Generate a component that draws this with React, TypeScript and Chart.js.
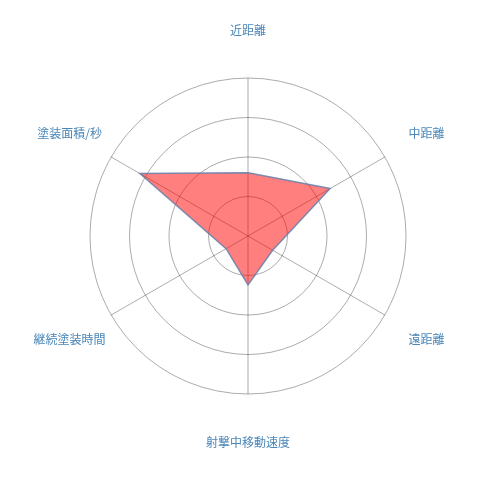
import { useEffect, useRef } from "react";
import { Chart, registerables, type Plugin } from "chart.js";

Chart.register(...registerables);

const labels = ["近距離", "中距離", "遠距離", "射撃中移動速度", "継続塗装時間", "塗装面積/秒"];
const values = [40, 60, 18, 31, 16, 79];
const scaleMax = 100;
const scaleStep = 25;

const LABEL_COLOR = "#4a86b8";
const GRID_COLOR = "rgba(0,0,0,0.33)";

// centred point labels, placed by the scale at a fixed distance past the outer ring
const centredLabels: Plugin<"radar"> = {
  id: "centredLabels",
  afterDraw(chart) {
    const scale: any = chart.scales.r;
    const ctx = chart.ctx;
    ctx.save();
    ctx.font = '12px "Noto Sans CJK JP", sans-serif';
    ctx.fillStyle = LABEL_COLOR;
    ctx.textAlign = "center";
    ctx.textBaseline = "middle";
    (chart.data.labels as string[]).forEach((text, i) => {
      const p = scale.getPointPosition(i, scale.drawingArea + 48);
      ctx.fillText(text, p.x, p.y);
    });
    ctx.restore();
  },
};

export default function App() {
  const canvasRef = useRef<HTMLCanvasElement>(null);
  const chartRef = useRef<Chart | null>(null);

  useEffect(() => {
    if (!canvasRef.current) return;
    chartRef.current?.destroy();
    chartRef.current = new Chart(canvasRef.current, {
      type: "radar",
      data: {
        labels,
        datasets: [
          {
            data: values,
            backgroundColor: "rgba(255,0,0,0.5)",
            borderColor: "rgba(110,130,170,0.9)",
            borderWidth: 1.5,
            pointRadius: 0,
            pointHoverRadius: 0,
          },
        ],
      },
      options: {
        animation: false,
        responsive: true,
        maintainAspectRatio: false,
        layout: { padding: { left: 90, right: 94, top: 78, bottom: 106 } },
        plugins: { legend: { display: false }, tooltip: { enabled: false } },
        scales: {
          r: {
            min: 0,
            max: scaleMax,
            ticks: { stepSize: scaleStep, display: false },
            grid: { circular: true, color: GRID_COLOR, lineWidth: 1 },
            angleLines: { color: GRID_COLOR, lineWidth: 1 },
            pointLabels: { display: false },
          },
        },
      },
      plugins: [centredLabels],
    });
    return () => chartRef.current?.destroy();
  }, []);

  return (
    <div style={{ position: "absolute", left: 0, top: 0, width: 500, height: 500, background: "#fff" }}>
      <canvas ref={canvasRef} />
    </div>
  );
}
